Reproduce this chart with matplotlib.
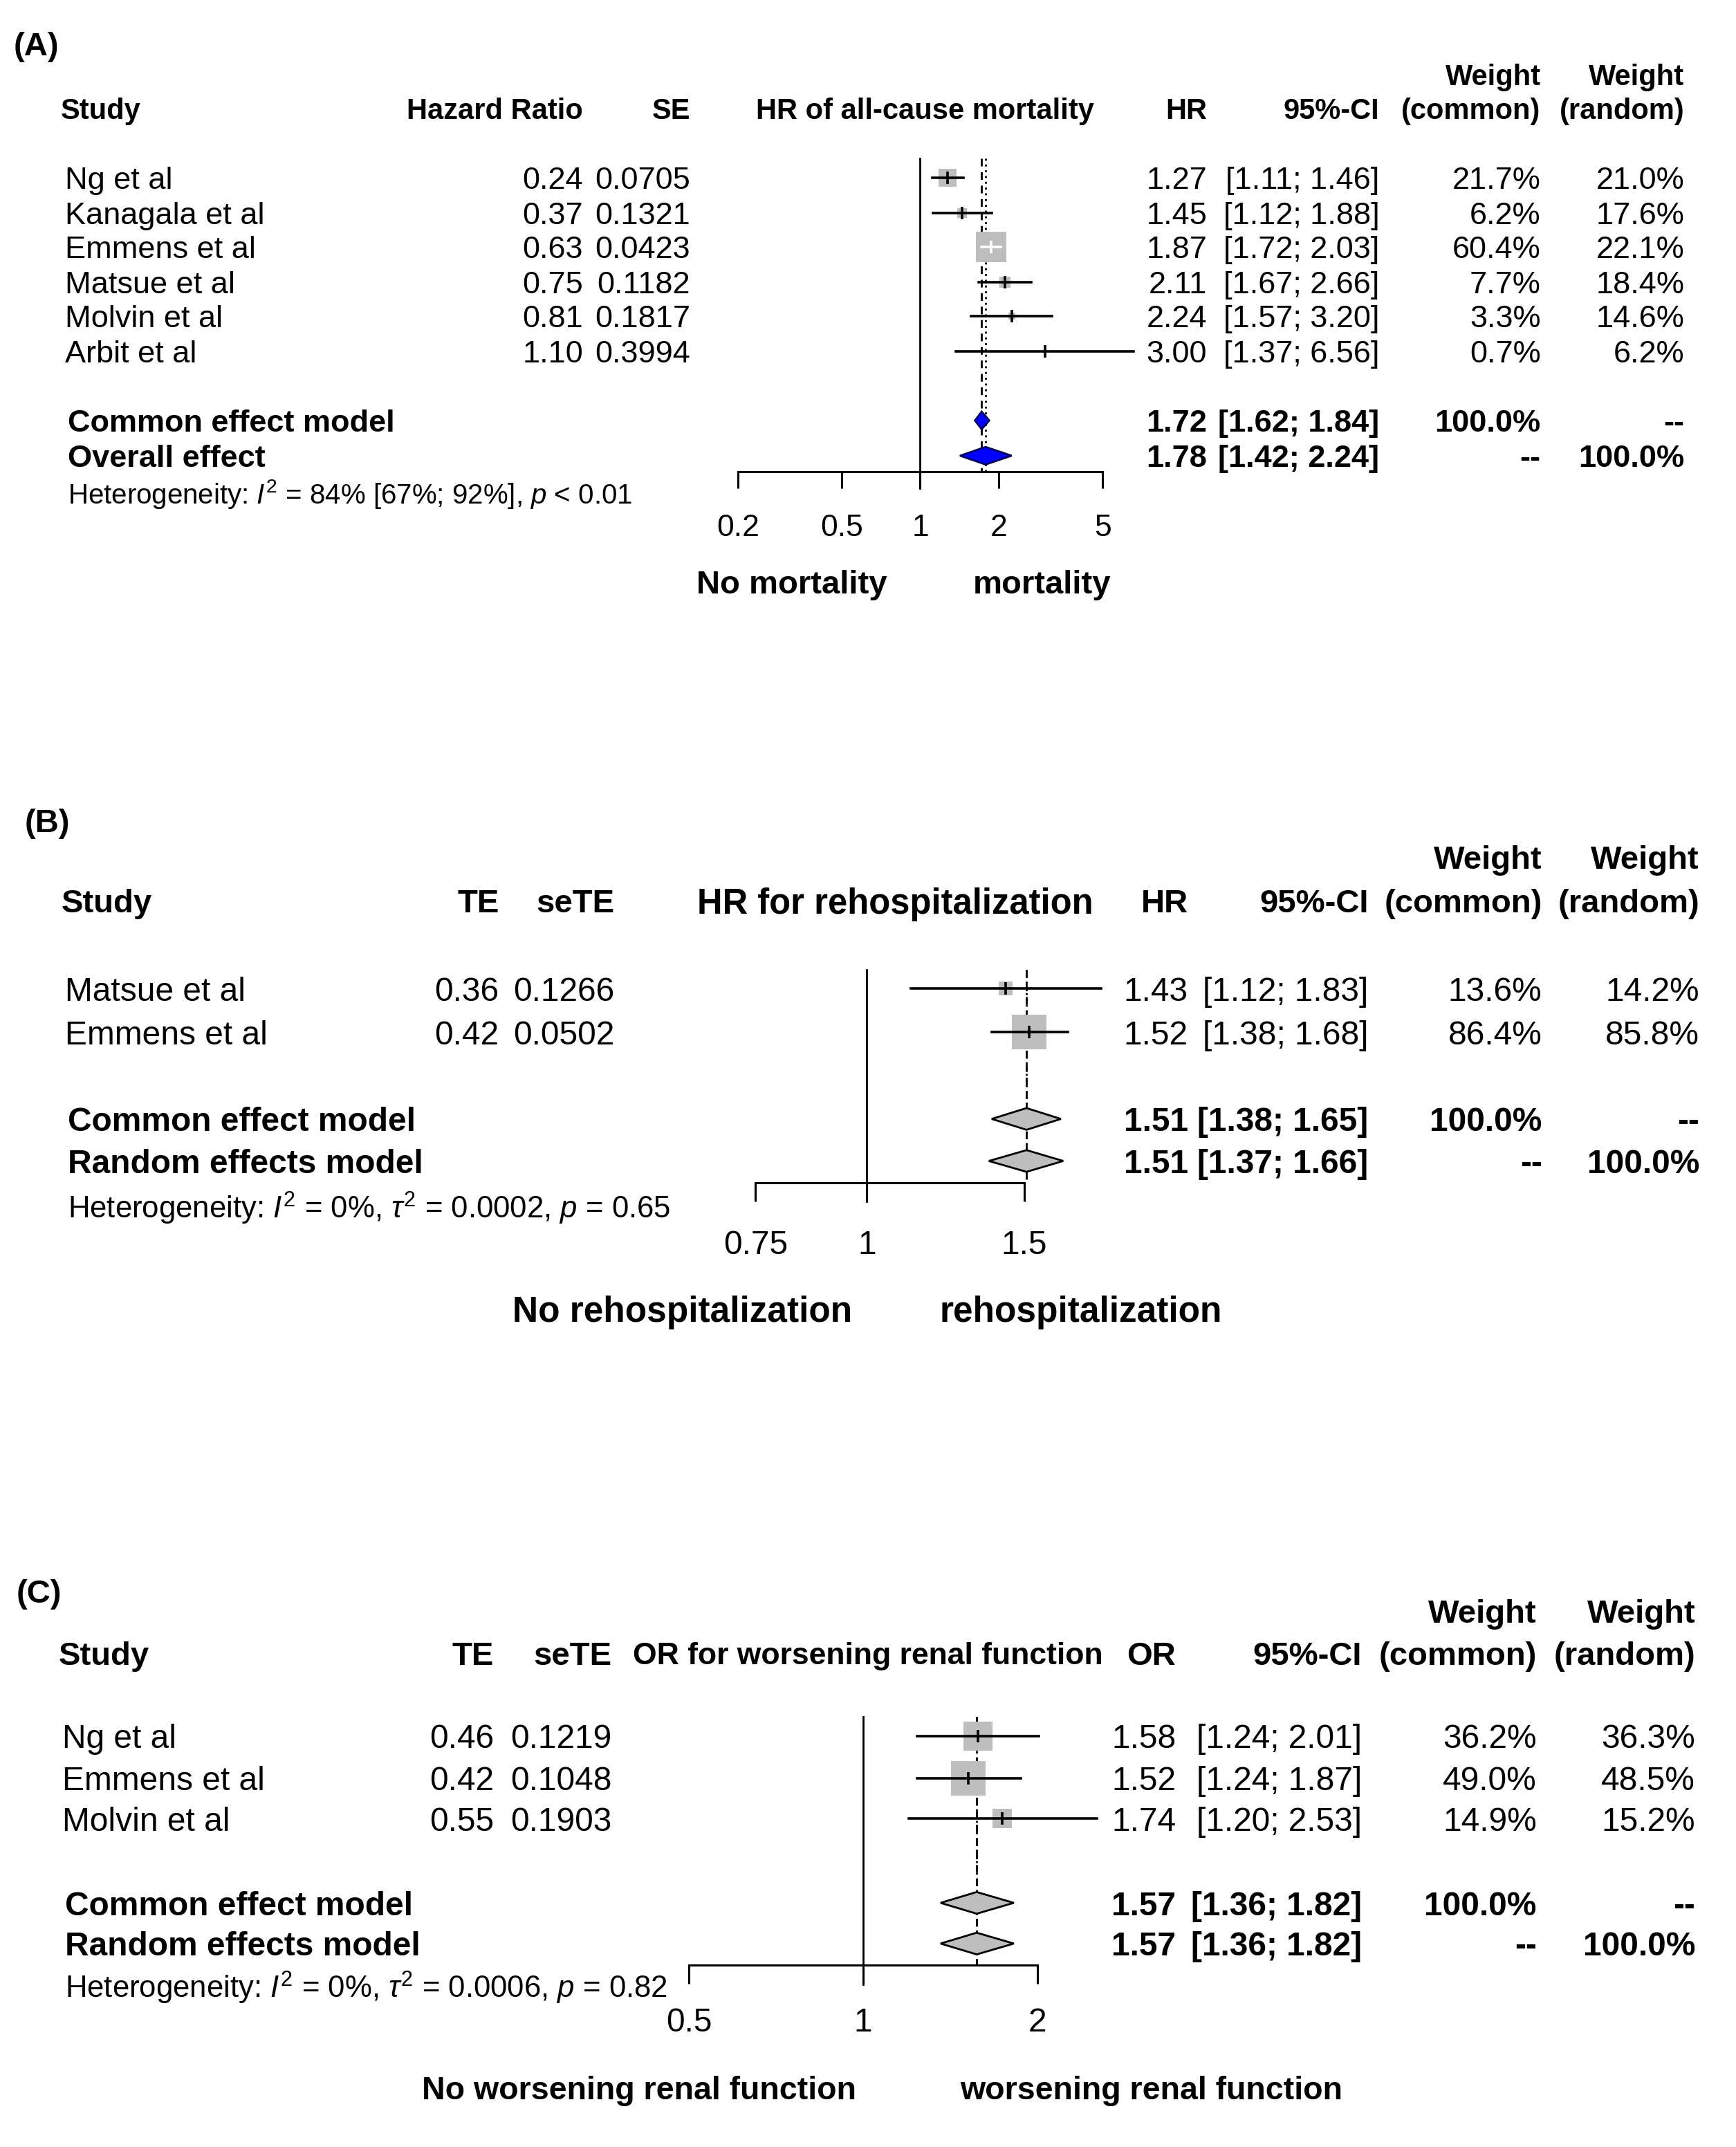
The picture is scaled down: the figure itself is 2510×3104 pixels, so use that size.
import numpy as np
import matplotlib
matplotlib.use('Agg')
import matplotlib.pyplot as plt
from matplotlib.patches import Polygon
from matplotlib.ticker import NullLocator

plt.rcParams['font.family'] = ['Liberation Sans', 'DejaVu Sans']
plt.rcParams['mathtext.fontset'] = 'custom'
plt.rcParams['mathtext.rm'] = 'Liberation Sans'
plt.rcParams['mathtext.it'] = 'Liberation Sans:italic'
plt.rcParams['mathtext.bf'] = 'Liberation Sans:bold'

# ---- data: (A) all-cause mortality
studies_a = ['Ng et al', 'Kanagala et al', 'Emmens et al', 'Matsue et al', 'Molvin et al', 'Arbit et al']
te_a = [0.24, 0.37, 0.63, 0.75, 0.81, 1.10]
se_a = [0.0705, 0.1321, 0.0423, 0.1182, 0.1817, 0.3994]
hr_a = [1.27, 1.45, 1.87, 2.11, 2.24, 3.00]
lo_a = [1.11, 1.12, 1.72, 1.67, 1.57, 1.37]
hi_a = [1.46, 1.88, 2.03, 2.66, 3.20, 6.56]
wc_a = [21.7, 6.2, 60.4, 7.7, 3.3, 0.7]
wr_a = [21.0, 17.6, 22.1, 18.4, 14.6, 6.2]
pooled_a = [(1.72, 1.62, 1.84), (1.78, 1.42, 2.24)]
pooled_names_a = ['Common effect model', 'Overall effect']
het_a = r'Heterogeneity: $\mathit{I}^2$ = 84% [67%; 92%], $\mathit{p}$ < 0.01'

# ---- data: (B) rehospitalization
studies_b = ['Matsue et al', 'Emmens et al']
te_b = [0.36, 0.42]
se_b = [0.1266, 0.0502]
hr_b = [1.43, 1.52]
lo_b = [1.12, 1.38]
hi_b = [1.83, 1.68]
wc_b = [13.6, 86.4]
wr_b = [14.2, 85.8]
pooled_b = [(1.51, 1.38, 1.65), (1.51, 1.37, 1.66)]
pooled_names_b = ['Common effect model', 'Random effects model']
het_b = r'Heterogeneity: $\mathit{I}^2$ = 0%, $\tau^2$ = 0.0002, $\mathit{p}$ = 0.65'

# ---- data: (C) worsening renal function
studies_c = ['Ng et al', 'Emmens et al', 'Molvin et al']
te_c = [0.46, 0.42, 0.55]
se_c = [0.1219, 0.1048, 0.1903]
hr_c = [1.58, 1.52, 1.74]
lo_c = [1.24, 1.24, 1.20]
hi_c = [2.01, 1.87, 2.53]
wc_c = [36.2, 49.0, 14.9]
wr_c = [36.3, 48.5, 15.2]
pooled_c = [(1.57, 1.36, 1.82), (1.57, 1.36, 1.82)]
pooled_names_c = ['Common effect model', 'Random effects model']
het_c = r'Heterogeneity: $\mathit{I}^2$ = 0%, $\tau^2$ = 0.0006, $\mathit{p}$ = 0.82'

W, H = 1280, 1583          # layout units (reference pixels / 1.961)
PT = 2510 / 1280 * 0.72    # layout unit -> points

fig = plt.figure(figsize=(25.1, 31.04), dpi=100)
bg = fig.add_axes([0, 0, 1, 1])
bg.set_xlim(0, W); bg.set_ylim(H, 0); bg.axis('off')


def txt(x, y, s, fs, ha='left', bold=False):
    bg.text(x, y, s, fontsize=fs, ha=ha, va='center_baseline',
            fontweight='bold' if bold else 'normal')


def panel(L, studies, te, se, est, lo, hi, wc, wr, pooled, pooled_names, het):
    fs, hfs = L['fs'], L['hfs']
    txt(L['lab'][0], L['lab'][1], L['label'], L['labfs'], bold=True)
    # header
    yw, yh = L['yhead']
    txt(L['wc'], yw, 'Weight', hfs, 'right', True)
    txt(L['wr'], yw, 'Weight', hfs, 'right', True)
    txt(L['name_x'] - 3, yh, 'Study', hfs, 'left', True)
    txt(L['te'], yh, L['te_head'], hfs, 'right', True)
    txt(L['se'], yh, L['se_head'], hfs, 'right', True)
    txt(L['title_x'], yh, L['title'], L['titlefs'], 'center', True)
    txt(L['est'], yh, L['est_head'], hfs, 'right', True)
    txt(L['ci'], yh, '95%-CI', hfs, 'right', True)
    txt(L['wc'], yh, '(common)', hfs, 'right', True)
    txt(L['wr'], yh, '(random)', hfs, 'right', True)
    # study rows
    for i, y in enumerate(L['rows']):
        txt(L['name_x'], y, studies[i], fs)
        txt(L['te'], y, '%.2f' % te[i], fs, 'right')
        txt(L['se'], y, '%.4f' % se[i], fs, 'right')
        txt(L['est'], y, '%.2f' % est[i], fs, 'right')
        txt(L['ci'], y, '[%.2f; %.2f]' % (lo[i], hi[i]), fs, 'right')
        txt(L['wc'], y, '%.1f%%' % wc[i], fs, 'right')
        txt(L['wr'], y, '%.1f%%' % wr[i], fs, 'right')
    wcols = [('100.0%', '--'), ('--', '100.0%')]
    for j, y in enumerate(L['prow']):
        e, l, h = pooled[j]
        txt(L['name_x'] + 2, y, pooled_names[j], fs, bold=True)
        txt(L['est'], y, '%.2f' % e, fs, 'right', True)
        txt(L['ci'], y, '[%.2f; %.2f]' % (l, h), fs, 'right', True)
        txt(L['wc'], y, wcols[j][0], fs, 'right', True)
        txt(L['wr'], y, wcols[j][1], fs, 'right', True)
    txt(L['name_x'] + 2, L['yhet'], het, L['hetfs'])

    # forest plot axes: x in log scale, y in layout units
    t = L['ticks']
    x0, x1 = L['tick_x']
    ax = fig.add_axes([x0 / W, 0, (x1 - x0) / W, 1])
    ax.set_xscale('log')
    ax.set_xlim(t[0], t[-1]); ax.set_ylim(H, 0)
    ax.patch.set_alpha(0)
    for s in ['top', 'left', 'right']:
        ax.spines[s].set_visible(False)
    ax.yaxis.set_visible(False)
    ax.spines['bottom'].set_position(('data', L['axis_y']))
    ax.spines['bottom'].set_bounds(t[0], t[-1])
    ax.spines['bottom'].set_linewidth(2.2)
    ax.set_xticks(t, labels=[('%g' % v) for v in t])
    ax.xaxis.set_minor_locator(NullLocator())
    ax.tick_params(axis='x', direction='out', length=L['ticklen'] * PT, width=2.2,
                   labelsize=L['tickfs'], pad=L['tickpad'] * PT)
    top = L['rows'][0] - 14
    ax.plot([1, 1], [top, L['axis_y'] + L['ticklen']], color='black', lw=2.0,
            clip_on=False)
    # pooled reference lines (common dashed, random dotted)
    ax.plot([pooled[0][0]] * 2, [top, L['axis_y']], color='black', lw=2.0,
            ls=(0, (4, 3)), clip_on=False, zorder=1)
    ax.plot([pooled[1][0]] * 2, [top, L['axis_y']], color='black', lw=2.0,
            ls=(0, (1, 2)), clip_on=False, zorder=1)
    wmax = max(wc)
    for i, y in enumerate(L['rows']):
        side = L['sq'] * np.sqrt(wc[i] / wmax)
        ax.plot([est[i]], [y], marker='s', ms=side * PT, color='#bebebe',
                mew=0, ls='none', clip_on=False, zorder=2)
        xe = ax.transData.transform((est[i], y))[0]
        xl = ax.transData.transform((lo[i], y))[0]
        xh = ax.transData.transform((hi[i], y))[0]
        half = side / 2 * 2510 / W
        c = 'white' if (xe - xl < half and xh - xe < half) else 'black'
        ax.plot([lo[i], hi[i]], [y, y], color=c, lw=2.6, clip_on=False, zorder=3)
        ax.plot([est[i]], [y], marker='|', ms=9 * PT, mew=2.6, color=c,
                ls='none', clip_on=False, zorder=3)
    for j, y in enumerate(L['prow']):
        e, l, h = pooled[j]
        d = L['dh']
        ax.add_patch(Polygon([(l, y), (e, y - d), (h, y), (e, y + d)], closed=True,
                             facecolor=L['dcol'], edgecolor=L['dedge'], lw=2.0,
                             clip_on=False, zorder=4))
    # direction labels
    yl = L['ylab']
    txt(L['lab_left'], yl, L['left_lab'], L['labfs2'], 'center', True)
    txt(L['lab_right'], yl, L['right_lab'], L['labfs2'], 'center', True)


LA = dict(label='(A)', lab=(10, 32), labfs=34, fs=32.5, hfs=30, titlefs=30, hetfs=29,
          yhead=(55, 80), name_x=48, te=430, se=509, title_x=682, est=890,
          ci=1017, wc=1136, wr=1242, te_head='Hazard Ratio', se_head='SE',
          title='HR of all-cause mortality', est_head='HR',
          rows=[131, 157, 182, 208, 233, 259], prow=[310, 336], yhet=362,
          ticks=[0.2, 0.5, 1, 2, 5], tick_x=(544, 813), axis_y=348, ticklen=12,
          tickfs=32, tickpad=19, sq=22, dh=6.5, dcol='#0000ff', dedge='#000060',
          ylab=429, lab_left=584, lab_right=768, left_lab='No mortality',
          right_lab='mortality', labfs2=34)

LB = dict(label='(B)', lab=(18, 605), labfs=34, fs=34.5, hfs=34, titlefs=36.5, hetfs=31.5,
          yhead=(632, 664), name_x=48, te=368, se=453, title_x=660, est=876,
          ci=1009, wc=1137, wr=1253, te_head='TE', se_head='seTE',
          title='HR for rehospitalization', est_head='HR',
          rows=[729, 761], prow=[825, 856], yhet=888,
          ticks=[0.75, 1, 1.5], tick_x=(557, 755), axis_y=872, ticklen=14,
          tickfs=34.5, tickpad=21, sq=25, dh=8, dcol='#bebebe', dedge='black',
          ylab=965, lab_left=503, lab_right=797, left_lab='No rehospitalization',
          right_lab='rehospitalization', labfs2=37)

LC = dict(label='(C)', lab=(12, 1173), labfs=34, fs=34.5, hfs=34, titlefs=32, hetfs=31.5,
          yhead=(1188, 1219), name_x=46, te=364, se=451, title_x=640, est=867,
          ci=1004, wc=1133, wr=1250, te_head='TE', se_head='seTE',
          title='OR for worsening renal function', est_head='OR',
          rows=[1280, 1311, 1341], prow=[1403, 1433], yhet=1463,
          ticks=[0.5, 1, 2], tick_x=(508, 765), axis_y=1449, ticklen=14,
          tickfs=34.5, tickpad=17, sq=25, dh=8, dcol='#bebebe', dedge='black',
          ylab=1539, lab_left=471, lab_right=849, left_lab='No worsening renal function',
          right_lab='worsening renal function', labfs2=33.5)

panel(LA, studies_a, te_a, se_a, hr_a, lo_a, hi_a, wc_a, wr_a, pooled_a, pooled_names_a, het_a)
panel(LB, studies_b, te_b, se_b, hr_b, lo_b, hi_b, wc_b, wr_b, pooled_b, pooled_names_b, het_b)
panel(LC, studies_c, te_c, se_c, hr_c, lo_c, hi_c, wc_c, wr_c, pooled_c, pooled_names_c, het_c)

fig.savefig('out.png', dpi=100, facecolor='white')
